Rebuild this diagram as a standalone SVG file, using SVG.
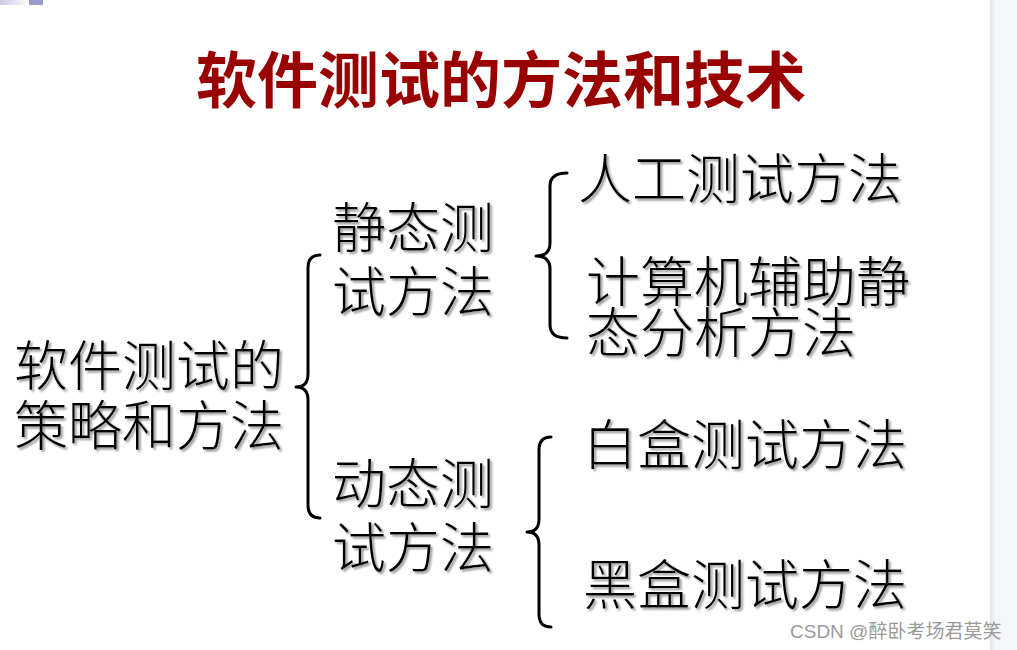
<svg xmlns="http://www.w3.org/2000/svg" width="1017" height="650" viewBox="0 0 1017 650">
<defs>
<linearGradient id="topbar" x1="0" y1="0" x2="1" y2="0">
<stop offset="0" stop-color="#c9c9e6"/>
<stop offset="1" stop-color="#ffffff"/>
</linearGradient>
<linearGradient id="edge" x1="0" y1="0" x2="1" y2="0">
<stop offset="0" stop-color="#e2e3e6"/>
<stop offset="1" stop-color="#f5f6f8"/>
</linearGradient>
<filter id="shadow" x="-5%" y="-10%" width="115%" height="130%">
<feDropShadow dx="2" dy="2" stdDeviation="0.8" flood-color="#777" flood-opacity="0.8"/>
</filter>
</defs>
<style>
.t{font-family:"Noto Sans CJK SC","Noto Sans CJK JP",sans-serif;font-size:54px;font-weight:300;fill:#000;filter:url(#shadow)}
.title{font-family:"Noto Sans CJK SC","Noto Sans CJK JP",sans-serif;font-size:61px;font-weight:700;fill:#990000}
.brace{fill:none;stroke:#000;stroke-width:3;stroke-linecap:round;stroke-linejoin:round}
.wm{font-family:"Liberation Sans","Noto Sans CJK SC",sans-serif;font-size:19px;fill:#9a9a9a}
</style>
<rect x="0" y="0" width="1017" height="650" fill="#ffffff"/>
<rect x="0" y="0" width="29" height="5" fill="url(#topbar)"/>
<rect x="29" y="0" width="14" height="5" fill="#9b9bcf"/>
<rect x="990" y="0" width="27" height="650" fill="#f5f6f8"/>
<rect x="990" y="0" width="5" height="650" fill="url(#edge)"/>
<g id="title"><text class="title" x="196" y="103">软件测试的方法和技术</text></g>
<g id="root"><text class="t"><tspan x="14" y="386">软件测试的</tspan><tspan x="14" y="446">策略和方法</tspan></text></g>
<g id="static"><text class="t"><tspan x="332" y="248">静态测</tspan><tspan x="332" y="312">试方法</tspan></text></g>
<g id="dynamic"><text class="t"><tspan x="332" y="504">动态测</tspan><tspan x="332" y="568">试方法</tspan></text></g>
<g id="manual"><text class="t" x="578" y="199">人工测试方法</text></g>
<g id="computer"><text class="t"><tspan x="586" y="302">计算机辅助静</tspan><tspan x="586" y="353">态分析方法</tspan></text></g>
<g id="whitebox"><text class="t" x="583" y="465">白盒测试方法</text></g>
<g id="blackbox"><text class="t" x="583" y="605">黑盒测试方法</text></g>
<g id="connectors">
<path class="brace" d="M320 255 Q308 255 308 268 L308 374 Q308 387 296 387 Q308 387 308 400 L308 505 Q308 518 320 518"/>
<path class="brace" d="M567 173 Q550 173 550 186 L550 243 Q550 256 536 256 Q550 256 550 269 L550 325 Q550 338 567 338"/>
<path class="brace" d="M551 437 Q539 437 539 450 L539 519 Q539 532 527 532 Q539 532 539 545 L539 614 Q539 627 551 627"/>
</g>
<text class="wm" x="790" y="638">CSDN @醉卧考场君莫笑</text>
</svg>
